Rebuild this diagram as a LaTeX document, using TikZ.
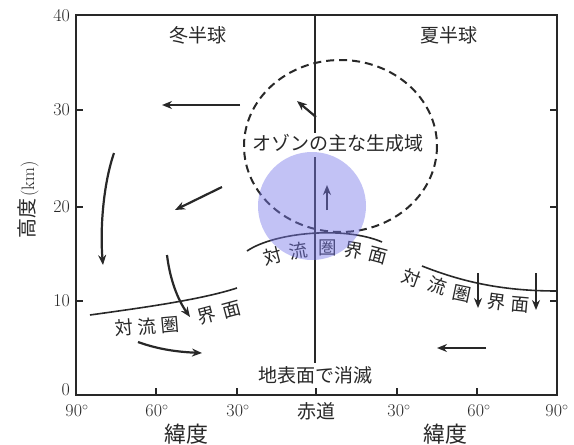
\documentclass[tikz,border=0pt]{standalone}
\usepackage{fontspec}
\newfontfamily\jp{Noto Sans CJK JP}
\usetikzlibrary{arrows.meta}
\definecolor{ink}{RGB}{40,40,40}
\definecolor{hilite}{RGB}{120,120,235}
\tikzset{
  frame/.style={line width=2pt, draw=ink},
  tick/.style={line width=1.6pt, draw=ink},
  flow/.style={line width=2.2pt, draw=ink, -{Stealth[length=10pt,width=8pt]}},
  tropo/.style={line width=1.6pt, draw=ink},
  jlab/.style={font=\jp\fontsize{19}{19}\selectfont, text=ink, inner sep=0pt},
  tlab/.style={font=\jp\fontsize{18.5}{18.5}\selectfont, text=ink, inner sep=0pt},
  big/.style={font=\jp\fontsize{22}{22}\selectfont, text=ink, inner sep=0pt},
  num/.style={font=\fontsize{18}{18}\selectfont, text=ink, inner sep=0pt},
}
\begin{document}
\begin{tikzpicture}[x=1pt,y=-1pt]
\useasboundingbox (0,0) rectangle (574,445);
\fill[white] (0,0) rectangle (574,445);

% frame
\draw[frame] (76,15) rectangle (557,395);
% ticks
\foreach \yy in {110,207,301} {
  \draw[tick] (76,\yy) -- (83,\yy);
  \draw[tick] (557,\yy) -- (550,\yy);
}
\foreach \xx in {156,237,316,397,477} {
  \draw[tick] (\xx,395) -- (\xx,388);
}

% y tick labels
\node[num, anchor=east] (y40) at (70,16) {40};
\node[num, anchor=east] (y30) at (70,110) {30};
\node[num, anchor=east] (y20) at (70,207) {20};
\node[num, anchor=east] (y10) at (70,301) {10};
\node[num, anchor=east] (y0) at (70,390) {0};
\node[rotate=90, inner sep=0pt, text=ink] (ylab) at (28,200) {{\jp\fontsize{20}{20}\selectfont 高度}\,{\fontsize{18}{18}\selectfont(km)}};

% x tick labels
\node[num] (x1) at (77,411) {90$^\circ$};
\node[num] (x2) at (157,411) {60$^\circ$};
\node[num] (x3) at (238,411) {30$^\circ$};
\node[jlab] (x4) at (316,411) {赤道};
\node[num] (x5) at (399,411) {30$^\circ$};
\node[num] (x6) at (479,411) {60$^\circ$};
\node[num] (x7) at (557,411) {90$^\circ$};
\node[big] (latL) at (186,434) {緯度};
\node[big] (latR) at (445,434) {緯度};

% hemisphere labels
\node[jlab] (winter) at (198,35) {冬半球};
\node[jlab] (summer) at (449,35) {夏半球};

% equator line
\coordinate (eqtop) at (315,15);
\coordinate (eqa) at (315,133);
\coordinate (eqb) at (315,157);
\coordinate (eqbot) at (315,363);
\draw[tropo] (eqtop) -- (eqa);
\draw[tropo] (eqb) -- (eqbot);

% ozone production region
\draw[line width=2pt, draw=ink, dash pattern=on 8pt off 5pt] (340.5,146) ellipse [x radius=96.5, y radius=86];
\node[jlab] (ozone) at (338,143) {オゾンの主な生成域};

% surface label
\node[jlab] (surf) at (315,375) {地表面で消滅};

% tropopause lines
\draw[tropo] (90,315) .. controls (140,308) and (200,300) .. (237,288);
\draw[tropo] (247,251) .. controls (275,232) and (345,226) .. (382,242);
\draw[tropo] (422,266) .. controls (460,281) and (500,291) .. (557,291);

% tropopause labels (winter side)
\node[tlab, rotate=5]  (tl1) at (124,328) {対};
\node[tlab, rotate=5]  (tl2) at (147,327) {流};
\node[tlab, rotate=5]  (tl3) at (170,325) {圏};
\node[tlab, rotate=15] (tl4) at (207,316) {界};
\node[tlab, rotate=15] (tl5) at (232,310) {面};
% tropopause labels (equator)
\node[tlab, rotate=15]  (tc1) at (273,256) {対};
\node[tlab, rotate=10]  (tc2) at (298,251) {流};
\node[tlab]             (tc3) at (328,248) {圏};
\node[tlab, rotate=-10] (tc4) at (354,251) {界};
\node[tlab, rotate=-15] (tc5) at (378,256) {面};
% tropopause labels (summer side)
\node[tlab, rotate=-20] (tr1) at (412,278) {対};
\node[tlab, rotate=-18] (tr2) at (437,286) {流};
\node[tlab, rotate=-12] (tr3) at (462,294) {圏};
\node[tlab, rotate=-8]  (tr4) at (497,302) {界};
\node[tlab, rotate=-5]  (tr5) at (520,305) {面};

% arrows
\coordinate (a1s) at (240,105); \coordinate (a1e) at (162,105);
\coordinate (a2s) at (316,117); \coordinate (a2e) at (297,101);
\coordinate (a3s) at (327,210); \coordinate (a3e) at (327,185);
\coordinate (a4s) at (222,187); \coordinate (a4e) at (175,210);
\coordinate (a5s) at (114,153); \coordinate (a5e) at (103,265);
\coordinate (a6s) at (167,255); \coordinate (a6e) at (190,317);
\coordinate (a7s) at (138,342); \coordinate (a7e) at (202,353);
\coordinate (a8s) at (478,273); \coordinate (a8e) at (478,308);
\coordinate (a9s) at (536,273); \coordinate (a9e) at (536,310);
\coordinate (a10s) at (486,348); \coordinate (a10e) at (437,348);

\draw[flow] (a1s) -- (a1e);
\draw[flow] (a2s) -- (a2e);
\draw[flow, line width=2.8pt] (a3s) -- (a3e);
\draw[flow] (a4s) -- (a4e);
\draw[flow] (a5s) .. controls (103,185) and (100,230) .. (a5e);
\draw[flow] (a6s) .. controls (170,280) and (178,300) .. (a6e);
\draw[flow] (a7s) .. controls (160,350) and (180,352) .. (a7e);
\draw[flow] (a8s) -- (a8e);
\draw[flow] (a9s) -- (a9e);
\draw[flow] (a10s) -- (a10e);

% highlight
\fill[hilite, opacity=0.45] (312,206) circle [radius=54];
\end{tikzpicture}
\end{document}
